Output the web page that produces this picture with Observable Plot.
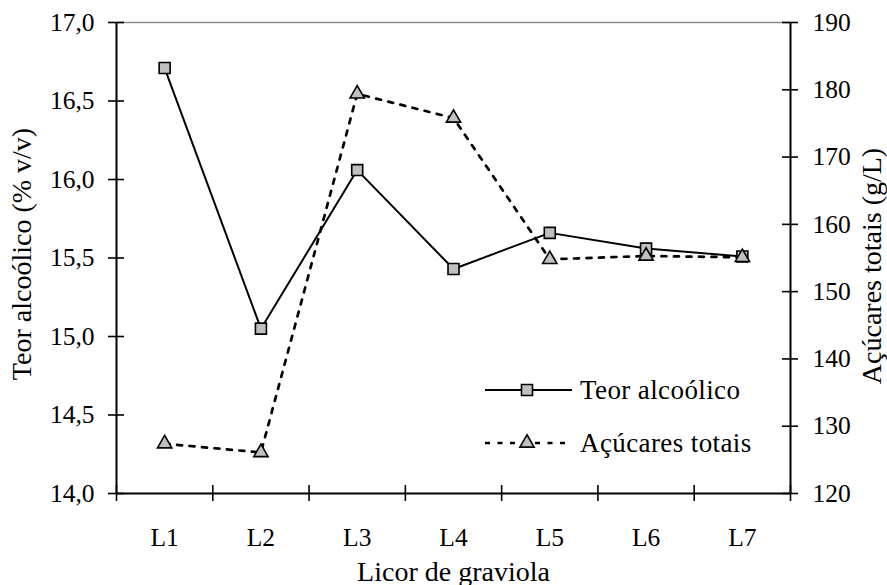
<!DOCTYPE html>
<html>
<head>
<meta charset="utf-8">
<script src="https://cdn.jsdelivr.net/npm/d3@7"></script>
<script src="https://cdn.jsdelivr.net/npm/@observablehq/plot@0.6"></script>
<style>
  html, body { margin: 0; padding: 0; background: white; }
  #wrap { position: relative; width: 887px; height: 585px; font-family: "Liberation Serif", "Times New Roman", serif; }
  #legend { position: absolute; left: 0; top: 0; pointer-events: none; }
</style>
</head>
<body>
<div id="wrap"></div>
<script>
const categories = ["L1", "L2", "L3", "L4", "L5", "L6", "L7"];
const teorAlcoolico = [16.71, 15.05, 16.06, 15.43, 15.66, 15.56, 15.51];
const acucaresTotais = [127.4, 126.1, 179.4, 175.8, 154.8, 155.3, 155.1];
const leftTicks = [14.0, 14.5, 15.0, 15.5, 16.0, 16.5, 17.0];
const rightTicks = [120, 130, 140, 150, 160, 170, 180, 190];
const seriesNames = ["Teor alcoólico", "Açúcares totais"];
const xTitle = "Licor de graviola";
const yLeftTitle = "Teor alcoólico (% v/v)";
const yRightTitle = "Açúcares totais (g/L)";

// map the right-axis (g/L) domain onto the left-axis domain
const toLeft = d3.scaleLinear([120, 190], [14, 17]);

const rows = categories.map((c, i) => ({
  cat: c, pos: i + 1, teor: teorAlcoolico[i], acu: toLeft(acucaresTotais[i])
}));
const boundaries = categories.map((c, i) => i + 0.5).concat([categories.length + 0.5]);

const W = 887, H = 585, ML = 116, MR = 97, MT = 22, MB = 92;
const FW = W - ML - MR, FH = H - MT - MB;
const font = "Liberation Serif";
const titleStyle = { fontSize: 28, fill: "black", textAnchor: "middle" };

const chart = Plot.plot({
  width: W, height: H,
  marginLeft: ML, marginRight: MR, marginTop: MT, marginBottom: MB,
  style: { fontFamily: font, fontSize: "25.5px", color: "black", background: "white", overflow: "visible" },
  x: { domain: [0.5, categories.length + 0.5], axis: null },
  y: { domain: [14, 17], axis: null },
  marks: [
    Plot.ruleY([17], { stroke: "#8c8c8c", strokeWidth: 1.5 }),
    // tick marks crossing the axes
    Plot.ruleX(boundaries, { insetTop: FH - 8, insetBottom: -8, stroke: "black", strokeWidth: 1.6 }),
    Plot.ruleY(leftTicks, { insetLeft: -8, insetRight: FW - 8, stroke: "black", strokeWidth: 1.6 }),
    Plot.ruleY(rightTicks.map(toLeft), { insetLeft: FW - 8, insetRight: -8, stroke: "black", strokeWidth: 1.6 }),
    // axis lines
    Plot.ruleX([0.5], { stroke: "black", strokeWidth: 2 }),
    Plot.ruleX([categories.length + 0.5], { stroke: "black", strokeWidth: 2 }),
    Plot.ruleY([14], { stroke: "black", strokeWidth: 2 }),
    // tick labels
    Plot.axisX({ ticks: rows.map(d => d.pos), tickSize: 0, tickPadding: 34, tickFormat: p => categories[p - 1], fontSize: 25.5, label: null }),
    Plot.axisY({ anchor: "left", ticks: leftTicks, tickSize: 0, tickPadding: 22, tickFormat: d => d.toFixed(1).replace(".", ","), fontSize: 25.5, label: null }),
    Plot.axisY({ anchor: "right", ticks: rightTicks.map(toLeft), tickSize: 0, tickPadding: 22, tickFormat: d => String(Math.round(toLeft.invert(d))), fontSize: 25.5, label: null }),
    // axis titles
    Plot.text([xTitle], { frameAnchor: "bottom", dy: 87, ...titleStyle }),
    Plot.text([yLeftTitle], { frameAnchor: "left", rotate: -90, dx: -94, dy: -4, ...titleStyle }),
    Plot.text([yRightTitle], { frameAnchor: "right", rotate: -90, dx: 82, dy: 8, ...titleStyle }),
    // series
    Plot.line(rows, { x: "pos", y: "teor", stroke: "black", strokeWidth: 2 }),
    Plot.dot(rows, { x: "pos", y: "teor", symbol: "square", r: 6.2, fill: "#c0c0c0", stroke: "black", strokeWidth: 1.6 }),
    Plot.line(rows, { x: "pos", y: "acu", stroke: "black", strokeWidth: 2.7, strokeDasharray: "5,7.5" }),
    Plot.dot(rows, { x: "pos", y: "acu", symbol: "triangle", r: 5.3, fill: "#c0c0c0", stroke: "black", strokeWidth: 1.6 })
  ]
});

const wrap = document.getElementById("wrap");
wrap.appendChild(chart);

// legend overlay (inside plot area, as in the reference)
const ns = "http://www.w3.org/2000/svg";
const lg = document.createElementNS(ns, "svg");
lg.setAttribute("id", "legend");
lg.setAttribute("width", W);
lg.setAttribute("height", H);
const legendRows = [
  { y: 390, dash: null, sw: 2, sym: d3.symbolSquare, r: 6.2 },
  { y: 443, dash: "5,7.5", sw: 2.7, sym: d3.symbolTriangle, r: 5.3 }
];
legendRows.forEach((row, i) => {
  const ln = document.createElementNS(ns, "line");
  ln.setAttribute("x1", 485); ln.setAttribute("x2", 572);
  ln.setAttribute("y1", row.y); ln.setAttribute("y2", row.y);
  ln.setAttribute("stroke", "black"); ln.setAttribute("stroke-width", row.sw);
  if (row.dash) ln.setAttribute("stroke-dasharray", row.dash);
  lg.appendChild(ln);
  const p = document.createElementNS(ns, "path");
  p.setAttribute("d", d3.symbol(row.sym, Math.PI * row.r * row.r)());
  p.setAttribute("transform", `translate(527,${row.y})`);
  p.setAttribute("fill", "#c0c0c0"); p.setAttribute("stroke", "black"); p.setAttribute("stroke-width", 1.6);
  lg.appendChild(p);
  const t = document.createElementNS(ns, "text");
  t.setAttribute("x", 580); t.setAttribute("y", row.y);
  t.setAttribute("dy", "0.35em");
  t.setAttribute("font-family", font); t.setAttribute("font-size", 27);
  t.setAttribute("letter-spacing", "0.4px");
  t.textContent = seriesNames[i];
  lg.appendChild(t);
});
wrap.appendChild(lg);
</script>
</body>
</html>
